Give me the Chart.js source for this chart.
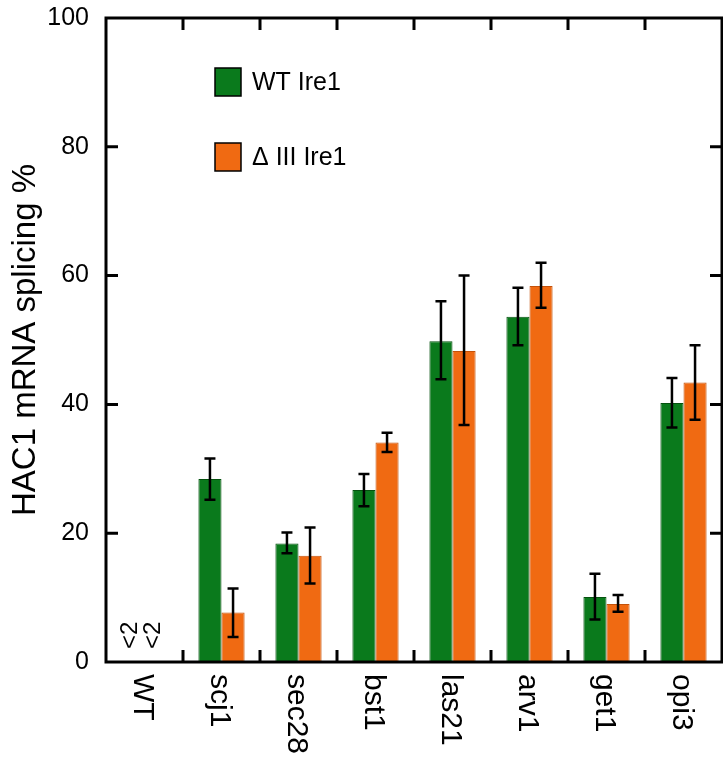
<!DOCTYPE html>
<html>
<head>
<meta charset="utf-8">
<script src="https://cdn.jsdelivr.net/npm/chart.js@4.4.1/dist/chart.umd.min.js"></script>
<style>
  html, body { margin: 0; padding: 0; background: #fff; }
  #wrap { width: 723px; height: 764px; }
</style>
</head>
<body>
<div id="wrap"><canvas id="splicingChart"></canvas></div>
<script>
// strains on the x axis
const categories = ['WT', 'scj1', 'sec28', 'bst1', 'las21', 'arv1', 'get1', 'opi3'];

// % HAC1 mRNA splicing (WT strain is below detection: "<2")
const wtIre1 = [0, 28.4, 18.4, 26.7, 49.8, 53.6, 10.1, 40.2];
const wtIre1Low = [null, 25.2, 16.9, 24.2, 43.9, 49.2, 6.6, 36.4];
const wtIre1High = [null, 31.6, 20.1, 29.2, 56.0, 58.1, 13.7, 44.1];

const dIIIIre1 = [0, 7.7, 16.5, 34.1, 48.3, 58.4, 9.0, 43.4];
const dIIIIre1Low = [null, 3.9, 12.2, 32.6, 36.8, 55.0, 7.8, 37.6];
const dIIIIre1High = [null, 11.4, 20.9, 35.6, 60.0, 62.0, 10.4, 49.2];

const belowLimit = ['<2', '<2'];
const yTicks = [0, 20, 40, 60, 80, 100];

const errLow = [wtIre1Low, dIIIIre1Low];
const errHigh = [wtIre1High, dIIIIre1High];

const FONT = '"Liberation Sans", Arial, Helvetica, sans-serif';

const decorPlugin = {
    id: 'decor',
    afterDatasetsDraw(chart) {
        const { ctx, scales: { y } } = chart;
        // error bars
        ctx.save();
        ctx.strokeStyle = '#000';
        ctx.lineWidth = 2.5;
        chart.data.datasets.forEach((ds, di) => {
            const meta = chart.getDatasetMeta(di);
            meta.data.forEach((bar, i) => {
                if (errLow[di][i] == null) return;
                const yl = y.getPixelForValue(errLow[di][i]);
                const yh = y.getPixelForValue(errHigh[di][i]);
                const cx = bar.x, w = 5.5;
                ctx.beginPath();
                ctx.moveTo(cx, yl); ctx.lineTo(cx, yh);
                ctx.moveTo(cx - w, yl); ctx.lineTo(cx + w, yl);
                ctx.moveTo(cx - w, yh); ctx.lineTo(cx + w, yh);
                ctx.stroke();
            });
        });
        ctx.restore();
    },
    afterDraw(chart) {
        const { ctx, chartArea: a, scales: { x, y } } = chart;
        ctx.save();
        ctx.strokeStyle = '#000';
        ctx.lineWidth = 3;
        ctx.strokeRect(a.left, a.top, a.right - a.left, a.bottom - a.top);

        // inward tick marks
        const tl = 12;
        ctx.beginPath();
        yTicks.slice(1, -1).forEach(v => {
            const py = y.getPixelForValue(v);
            ctx.moveTo(a.left, py); ctx.lineTo(a.left + tl, py);
            ctx.moveTo(a.right, py); ctx.lineTo(a.right - tl, py);
        });
        for (let i = 0; i < categories.length - 1; i++) {
            const px = (x.getPixelForValue(i) + x.getPixelForValue(i + 1)) / 2;
            ctx.moveTo(px, a.top); ctx.lineTo(px, a.top + tl);
            ctx.moveTo(px, a.bottom); ctx.lineTo(px, a.bottom - tl);
        }
        ctx.stroke();

        // category labels, reading downward
        ctx.fillStyle = '#000';
        ctx.font = '30px ' + FONT;
        ctx.textAlign = 'left';
        ctx.textBaseline = 'middle';
        categories.forEach((c, i) => {
            ctx.save();
            ctx.translate(x.getPixelForValue(i) - 2, a.bottom + 12);
            ctx.rotate(Math.PI / 2);
            ctx.fillText(c, 0, 0);
            ctx.restore();
        });

        // "<2" notes for the WT strain
        ctx.font = '24px ' + FONT;
        chart.data.datasets.forEach((ds, di) => {
            const bar = chart.getDatasetMeta(di).data[0];
            ctx.save();
            ctx.translate(bar.x - 3, a.bottom - 13);
            ctx.rotate(-Math.PI / 2);
            ctx.fillText(belowLimit[di], 0, 0);
            ctx.restore();
        });

        // legend
        ctx.font = '25px ' + FONT;
        ctx.lineWidth = 1.5;
        chart.data.datasets.forEach((ds, di) => {
            const top = a.top + 50 + di * 75;
            ctx.fillStyle = ds.backgroundColor;
            ctx.fillRect(215, top, 26, 28);
            ctx.strokeStyle = '#000';
            ctx.strokeRect(215, top, 26, 28);
            ctx.fillStyle = '#000';
            ctx.fillText(ds.label, 252, top + 15);
        });
        ctx.restore();
    }
};

new Chart(document.getElementById('splicingChart'), {
    type: 'bar',
    data: {
        labels: categories,
        datasets: [{
            label: 'WT Ire1',
            data: wtIre1,
            backgroundColor: '#0a7a1c',
            borderColor: '#05520f',
            borderWidth: 1
        }, {
            label: 'Δ III Ire1',
            data: dIIIIre1,
            backgroundColor: '#f06a12',
            borderColor: '#c4520a',
            borderWidth: 1
        }]
    },
    options: {
        responsive: true,
        maintainAspectRatio: false,
        animation: false,
        layout: { padding: { top: 18, right: 1, bottom: 102, left: 0 } },
        datasets: { bar: { categoryPercentage: 0.6, barPercentage: 1.0 } },
        plugins: { legend: { display: false }, tooltip: { enabled: false } },
        scales: {
            x: { display: false },
            y: {
                min: 0,
                max: 100,
                afterFit(scale) {
                    scale.width = 106;
                    scale.paddingTop = 0;
                    scale.paddingBottom = 0;
                },
                grid: { display: false, drawTicks: false },
                border: { display: false },
                ticks: {
                    stepSize: 20,
                    padding: 17,
                    color: '#000',
                    font: { family: FONT, size: 25 }
                },
                title: {
                    display: true,
                    text: 'HAC1 mRNA splicing %',
                    color: '#000',
                    font: { family: FONT, size: 33 },
                    padding: { top: 6, bottom: 0 }
                }
            }
        }
    },
    plugins: [decorPlugin]
});
</script>
</body>
</html>
